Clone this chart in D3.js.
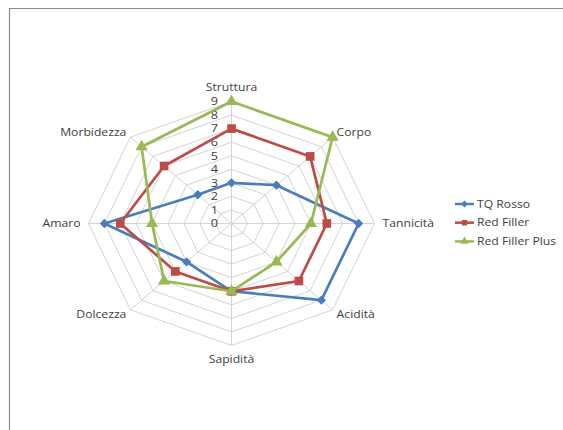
<!DOCTYPE html>
<html>
<head>
<meta charset="utf-8">
<script src="https://cdn.jsdelivr.net/npm/d3@7"></script>
<style>
  body { margin: 0; background: #fff; }
  svg text { font-family: "Open Sans", "Liberation Sans", sans-serif; fill: #404040; }
</style>
</head>
<body>
<div id="viz"></div>
<script>
// axes of the radar, clockwise from the top
const axes = ["Struttura", "Corpo", "Tannicità", "Acidità", "Sapidità", "Dolcezza", "Amaro", "Morbidezza"];
const ticks = [0, 1, 2, 3, 4, 5, 6, 7, 8, 9];
const seriesNames = ["TQ Rosso", "Red Filler", "Red Filler Plus"];
const tqRosso = [3, 4, 8, 8, 5, 4, 8, 3];
const redFiller = [7, 7, 6, 6, 5, 5, 7, 6];
const redFillerPlus = [9, 9, 5, 4, 5, 6, 5, 8];

const width = 563, height = 430;
const cx = 231.5, cy = 223.5;
const stretch = 1.16; // the original picture is stretched sideways

const svg = d3.select("#viz").append("svg")
  .attr("width", width)
  .attr("height", height);

// chart border (top + left only are visible in the crop)
svg.append("path")
  .attr("d", "M9.5," + height + "V8.5H" + width)
  .attr("fill", "none")
  .attr("stroke", "#8c8c8c")
  .attr("stroke-width", 1.2);

// one scale per direction because of the stretch
const rx = d3.scaleLinear().domain([0, 9]).range([0, 143]);
const ry = d3.scaleLinear().domain([0, 9]).range([0, 122]);
const angle = d3.scaleLinear().domain([0, axes.length]).range([0, 2 * Math.PI]);

function pt(i, v) {
  const a = angle(i);
  return [cx + rx(v) * Math.sin(a), cy - ry(v) * Math.cos(a)];
}

// stretched text helper
function addText(parent, x, y, str, size, anchor) {
  return parent.append("text")
    .attr("transform", "translate(" + x + "," + y + ") scale(" + stretch + ",1)")
    .attr("dy", "0.35em")
    .attr("text-anchor", anchor)
    .style("font-size", size + "px")
    .text(str);
}

const g = svg.append("g");

// rings
ticks.slice(1).forEach(t => {
  g.append("path")
    .attr("d", d3.line()(axes.map((_, i) => pt(i, t))) + "Z")
    .attr("fill", "none")
    .attr("stroke", "#d4d4d4")
    .attr("stroke-width", 1);
});

// spokes
axes.forEach((_, i) => {
  const p = pt(i, 9);
  g.append("line")
    .attr("x1", cx).attr("y1", cy)
    .attr("x2", p[0]).attr("y2", p[1])
    .attr("stroke", "#d4d4d4")
    .attr("stroke-width", 1);
});

// tick labels along the top spoke
ticks.forEach(t => addText(g, cx - 17, cy - ry(t), t, 11, "middle"));

// axis labels
const labelPos = [
  { dx: 0, dy: -14, anchor: "middle" },
  { dx: 4, dy: -5, anchor: "start" },
  { dx: 8, dy: 0, anchor: "start" },
  { dx: 4, dy: 5, anchor: "start" },
  { dx: 0, dy: 14, anchor: "middle" },
  { dx: -4, dy: 5, anchor: "end" },
  { dx: -8, dy: 0, anchor: "end" },
  { dx: -4, dy: -5, anchor: "end" }
];
axes.forEach((name, i) => {
  const p = pt(i, 9);
  const lp = labelPos[i];
  addText(g, p[0] + lp.dx, p[1] + lp.dy, name, 10.5, lp.anchor);
});

const colors = ["#4a7ebb", "#be4b48", "#98b954"];
const seriesData = [tqRosso, redFiller, redFillerPlus];
const symbolTypes = [d3.symbolDiamond2, d3.symbolSquare, d3.symbolTriangle];
const symbolSizes = [55, 75, 65];

seriesData.forEach((vals, s) => {
  const pts = vals.map((v, i) => pt(i, v));
  g.append("path")
    .attr("d", d3.line()(pts) + "Z")
    .attr("fill", "none")
    .attr("stroke", colors[s])
    .attr("stroke-width", 2.7)
    .attr("stroke-linejoin", "round");
  g.selectAll(".m" + s).data(pts).enter().append("path")
    .attr("class", "m" + s)
    .attr("transform", d => "translate(" + d[0] + "," + d[1] + ")")
    .attr("d", d3.symbol().type(symbolTypes[s]).size(symbolSizes[s])())
    .attr("fill", colors[s]);
});

// legend
const legend = svg.append("g").attr("transform", "translate(455,204)");
seriesNames.forEach((name, s) => {
  const row = legend.append("g").attr("transform", "translate(0," + (s * 18.7) + ")");
  row.append("line")
    .attr("x1", 0).attr("x2", 19)
    .attr("stroke", colors[s])
    .attr("stroke-width", 2.5);
  row.append("path")
    .attr("transform", "translate(9.5,0)")
    .attr("d", d3.symbol().type(symbolTypes[s]).size(30)())
    .attr("fill", colors[s]);
  addText(row, 22, 0, name, 10.5, "start");
});
</script>
</body>
</html>
